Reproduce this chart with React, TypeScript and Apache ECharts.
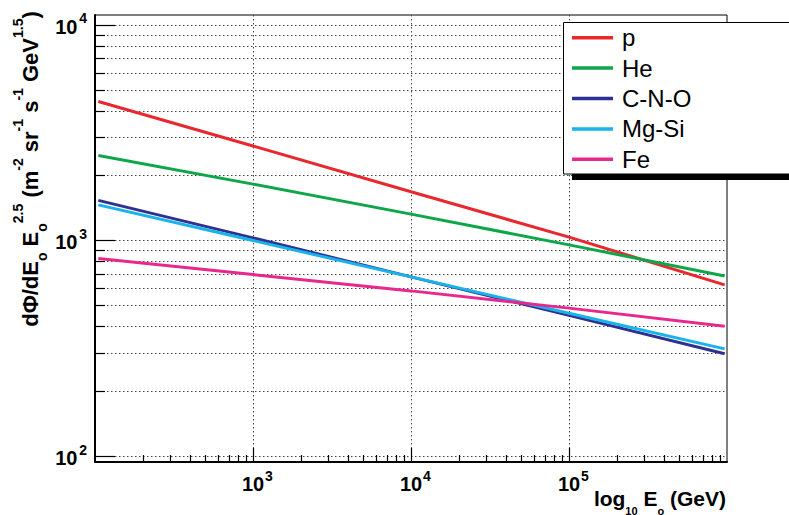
import React, { useEffect, useRef } from "react";
import * as echarts from "echarts";

// ---------- data ----------
const seriesNames = ["p", "He", "C-N-O", "Mg-Si", "Fe"];
const seriesColors = ["#e8282e", "#0fa64a", "#2e3192", "#17b3ea", "#e8288e"];
const energies = [105, 1e3, 1e4, 1e5, 9.66e5];
const pFlux = [4406, 2740, 1680, 1035, 622];
const heFlux = [2475, 1823, 1323, 953, 684];
const cnoFlux = [1533, 1027, 677, 449, 298];
const mgsiFlux = [1461, 998, 677, 459, 314];
const feFlux = [823, 694, 583, 485, 400];
const fluxes = [pFlux, heFlux, cnoFlux, mgsiFlux, feFlux];

const xRange = [100, 1e6];
const yRange = [93.8, 11090];
const xDecades = [1e2, 1e3, 1e4, 1e5];
const yDecades = [1e2, 1e3];
const xLabelled = [1e3, 1e4, 1e5];
const yLabelled = [1e2, 1e3, 1e4];
const yTop = 1e4;
const minorMultipliers = [2, 3, 4, 5, 6, 7, 8, 9];

const FAMILY = "'Liberation Sans', Arial, Helvetica, sans-serif";
const FONT = FAMILY;
const BASE_FONT = `bold 20px ${FAMILY}`;
const POW_FONT = `bold 14px ${FAMILY}`;

// tick tables: [value, isMajor]
const yTicks: number[][] = [];
yDecades.forEach((d) => {
  yTicks.push([d, 1]);
  minorMultipliers.forEach((m) => yTicks.push([d * m, 0]));
});
yTicks.push([yTop, 1]);

const xTicks: number[][] = [];
xDecades.forEach((d, i) => {
  if (i > 0) xTicks.push([d, 1]);
  minorMultipliers.forEach((m) => xTicks.push([d * m, 0]));
});

const expOf = (v: number) => String(Math.round(Math.log10(v)));
const baseStyle = (align: string) => ({ text: "10", font: BASE_FONT, fontSize: 20, fontWeight: "bold", fontFamily: FAMILY, fill: "#000", align, verticalAlign: "middle" });
const powStyle = (t: string, align: string) => ({ text: t, font: POW_FONT, fontSize: 14, fontWeight: "bold", fontFamily: FAMILY, fill: "#000", align, verticalAlign: "middle" });

export default function App() {
  const ref = useRef<HTMLDivElement>(null);
  useEffect(() => {
    if (!ref.current) return;
    const chart = echarts.init(ref.current, null, { renderer: "svg" });

    const lineSeries = seriesNames.map((name, i) => ({
      name,
      type: "line",
      data: energies.map((e, j) => [e, fluxes[i][j]]),
      showSymbol: false,
      symbol: "none",
      color: seriesColors[i],
      lineStyle: { color: seriesColors[i], width: 3 },
      z: 3,
      silent: true,
    }));

    const option: any = {
      animation: false,
      backgroundColor: "#fff",
      grid: {
        left: 95,
        top: 15,
        right: 62,
        bottom: 53,
        show: true,
        borderColor: "#000",
        borderWidth: 1,
        backgroundColor: "transparent",
      },
      xAxis: {
        type: "log",
        logBase: 10,
        min: xRange[0],
        max: xRange[1],
        axisLine: { show: true, lineStyle: { color: "#000", width: 2 } },
        axisTick: { show: false },
        splitLine: { show: false },
        minorTick: { show: false },
        axisLabel: { show: false },
      },
      yAxis: {
        type: "log",
        logBase: 10,
        min: yRange[0],
        max: yRange[1],
        axisLine: { show: true, lineStyle: { color: "#000", width: 2 } },
        axisTick: { show: false },
        splitLine: { show: false },
        minorTick: { show: false },
        axisLabel: { show: false },
      },
      legend: {
        data: seriesNames,
        orient: "vertical",
        left: 572,
        top: 25.7,
        padding: 0,
        itemWidth: 41,
        itemHeight: 3.5,
        itemGap: 6.4,
        icon: "rect",
        selectedMode: false,
        z: 12,
        textStyle: { fontSize: 24, fontFamily: FONT, color: "#000", lineHeight: 24, padding: [0, 0, 0, 4] },
      },
      graphic: [
        { type: "rect", z: 10, shape: { x: 572, y: 28.5, width: 300, height: 151.5 }, style: { fill: "#000" }, silent: true },
        { type: "rect", z: 11, shape: { x: 563.5, y: 22.5, width: 300, height: 151.5 }, style: { fill: "#fff", stroke: "#000", lineWidth: 1 }, silent: true },
        {
          type: "text",
          z: 5,
          x: 30,
          y: 169,
          rotation: Math.PI / 2,
          silent: true,
          style: {
            text: "{b|dΦ/dE}{sub|o}{b| E}{sub|o}{sup|2.5}{b| (m}{sup|-2}{b| sr}{sup|-1}{b| s}{sup|-1}{b| GeV}{sup|1.5}{b|)}",
            align: "center",
            verticalAlign: "middle",
            rich: {
              b: { fontSize: 22, height: 22, fontWeight: "bold", fontFamily: FONT, fill: "#000", verticalAlign: "top", padding: [8.5, 0, 0, 0] },
              sup: { fontSize: 14, height: 14, fontWeight: "bold", fontFamily: FONT, fill: "#000", verticalAlign: "top" },
              sub: { fontSize: 14, height: 14, fontWeight: "bold", fontFamily: FONT, fill: "#000", verticalAlign: "bottom", padding: [23.5, 0, 0, 0] },
            },
          },
        },
        {
          type: "text",
          z: 5,
          x: 726,
          y: 487.5,
          silent: true,
          style: {
            text: "{b|log}{sub|10}{b| E}{sub|o}{b| (GeV)}",
            align: "right",
            verticalAlign: "top",
            rich: {
              b: { fontSize: 21, height: 21, fontWeight: "bold", fontFamily: FONT, fill: "#000", verticalAlign: "top" },
              sub: { fontSize: 11, height: 11, fontWeight: "bold", fontFamily: FONT, fill: "#000", verticalAlign: "bottom", padding: [17.5, 0, 0, 0] },
            },
          },
        },
      ],
      series: [
        {
          type: "custom",
          name: "yaxis-ticks",
          coordinateSystem: "cartesian2d",
          silent: true,
          z: 1,
          clip: false,
          data: yTicks.map((t) => [xRange[0], t[0], t[1]]),
          encode: { x: 0, y: 1 },
          renderItem: (params: any, api: any) => {
            const cs = params.coordSys;
            const v = api.value(1);
            const yc = api.coord([xRange[0], v])[1];
            const y = Math.round(yc) + 0.5;
            const major = api.value(2) === 1;
            const len = major ? 20 : 10;
            const children: any[] = [
              { type: "line", shape: { x1: cs.x, y1: y, x2: cs.x + cs.width, y2: y }, style: { stroke: "#444", lineWidth: 1, lineDash: [1.5, 2.5] } },
              { type: "line", shape: { x1: cs.x, y1: y, x2: cs.x + len, y2: y }, style: { stroke: "#000", lineWidth: 1.2 } },
            ];
            if (yLabelled.indexOf(v) >= 0) {
              children.push({ type: "text", x: cs.x - 8, y: yc - 6.5, style: powStyle(expOf(v), "right") });
              children.push({ type: "text", x: cs.x - 17.5, y: yc + 2, style: baseStyle("right") });
            }
            return { type: "group", children };
          },
        },
        {
          type: "custom",
          name: "xaxis-ticks",
          coordinateSystem: "cartesian2d",
          silent: true,
          z: 1,
          clip: false,
          data: xTicks.map((t) => [t[0], yRange[0], t[1]]),
          encode: { x: 0, y: 1 },
          renderItem: (params: any, api: any) => {
            const cs = params.coordSys;
            const v = api.value(0);
            const xc = api.coord([v, yRange[0]])[0];
            const x = Math.round(xc) + 0.5;
            const major = api.value(2) === 1;
            const len = major ? 14 : 7;
            const bottom = cs.y + cs.height;
            const children: any[] = [];
            if (xLabelled.indexOf(v) >= 0) {
              children.push({ type: "line", shape: { x1: x, y1: cs.y, x2: x, y2: bottom }, style: { stroke: "#444", lineWidth: 1, lineDash: [1.5, 2.5] } });
              children.push({ type: "text", x: xc, y: bottom + 21.5, style: baseStyle("center") });
              children.push({ type: "text", x: xc + 12, y: bottom + 13.5, style: powStyle(expOf(v), "left") });
            }
            children.push({ type: "line", shape: { x1: x, y1: bottom, x2: x, y2: bottom - len }, style: { stroke: "#000", lineWidth: 1.2 } });
            return { type: "group", children };
          },
        },
        ...lineSeries,
      ],
    };
    chart.setOption(option);
    return () => chart.dispose();
  }, []);
  return <div ref={ref} style={{ position: "fixed", left: 0, top: 0, width: 789, height: 515, background: "#fff" }} />;
}
